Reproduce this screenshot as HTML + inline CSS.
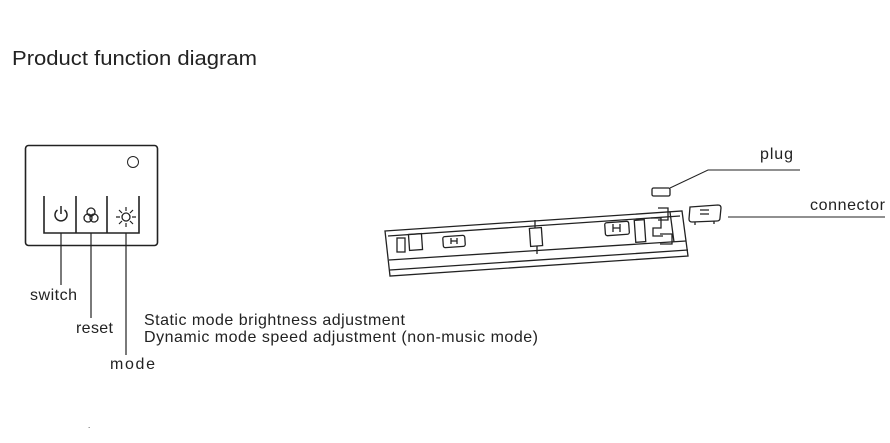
<!DOCTYPE html>
<html><head><meta charset="utf-8"><style>
body{margin:0;background:#fff;width:890px;height:443px;overflow:hidden;font-family:"Liberation Sans",sans-serif;color:#222}
svg{position:absolute;left:0;top:0}
</style></head><body>
<svg width="890" height="443" viewBox="0 0 890 443" font-family="Liberation Sans, sans-serif" fill="none" stroke="#222">
<text x="12" y="65" font-size="20" fill="#222" stroke="none" textLength="245" lengthAdjust="spacingAndGlyphs">Product function diagram</text>
<rect x="25.5" y="145.5" width="132" height="100" rx="3" stroke-width="1.6"/>
<circle cx="133" cy="162" r="5.5" stroke-width="1"/>
<path d="M44 196V233H139V196M76 196V233M107 196V233" stroke-width="1.6"/>
<path d="M57.5 210A6 6 0 1 0 64.5 210M61 206V214" stroke-width="1.5"/>
<circle cx="91" cy="212" r="4" stroke-width="1.3"/><circle cx="88" cy="218" r="4" stroke-width="1.3"/><circle cx="94" cy="218" r="4" stroke-width="1.3"/>
<circle cx="126" cy="217" r="4" stroke-width="1.3"/>
<path d="M126 207v4M126 223v4M116 217h4M132 217h4M119 210l3 3M130 221l3 3M133 210l-3 3M122 221l-3 3" stroke-width="1.2"/>
<path d="M61 233V285M91 233V318M126 233V355" stroke-width="1.2"/>
<g fill="#222" stroke="none" font-size="16" lengthAdjust="spacingAndGlyphs">
<text x="30" y="300" textLength="47">switch</text>
<text x="76" y="333" textLength="37">reset</text>
<text x="110" y="369" textLength="45">mode</text>
<text x="144" y="325" textLength="261">Static mode brightness adjustment</text>
<text x="144" y="342" textLength="394">Dynamic mode speed adjustment (non-music mode)</text>
<text x="760" y="159" textLength="33">plug</text>
<text x="810" y="210" textLength="75">connector</text>
<text x="88" y="428" font-size="8">.</text>
</g>
<g stroke-width="1.3">
<path d="M385 231L682 211L688 256L390 276Z"/>
<path d="M388 236L680 216M389 260L686 241M390 270L688 250"/>
<rect x="397" y="238" width="8" height="14"/>
<rect x="409" y="234" width="13" height="16" transform="rotate(-4 415 242)"/>
<rect x="443" y="236" width="22" height="11" rx="2" transform="rotate(-4 454 241)"/>
<path d="M451 238v6M457 238v6M451 241h6"/>
<rect x="530" y="228" width="12" height="18" transform="rotate(-4 536 237)"/>
<path d="M535 220v8M537 246v8"/>
<rect x="605" y="222" width="24" height="13" rx="2" transform="rotate(-4 617 228)"/>
<path d="M613 224v8M620 224v8M613 228h7"/>
<rect x="635" y="220" width="10" height="22" transform="rotate(-4 640 231)"/>
<path d="M651 218h10v10h-8v8h10M658 208h10v12h-10M660 234h12v10h-12M670 212l4 30"/>
<rect x="652" y="188" width="18" height="8" rx="1.5"/>
<path d="M690 207L718 205Q721 205 721 208L720 218Q720 221 717 221L692 222Q689 222 689 219Z"/>
<path d="M700 210h9M700 214h9M695 222v3M714 221v3"/>
</g>
<path d="M670 188L708 170H800M728 217H885" stroke-width="1"/>
</svg>
</body></html>
